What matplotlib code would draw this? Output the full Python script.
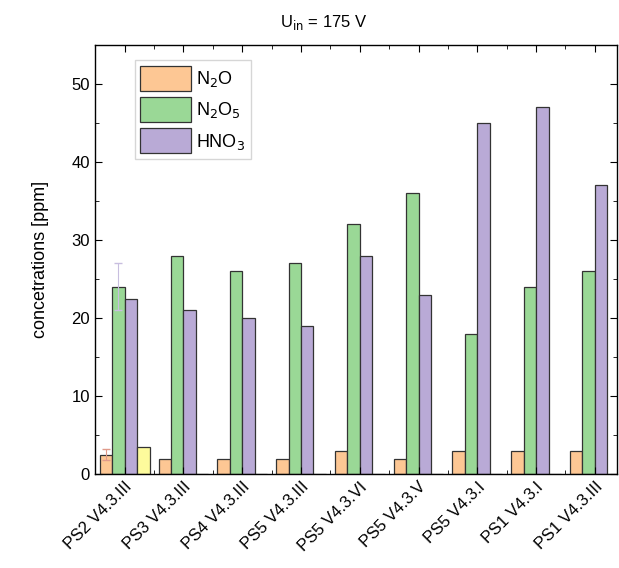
import matplotlib.pyplot as plt
import numpy as np
from matplotlib.ticker import MultipleLocator

samples = ["PS2 V4.3.III", "PS3 V4.3.III", "PS4 V4.3.III", "PS5 V4.3.III",
           "PS5 V4.3.VI", "PS5 V4.3.V", "PS5 V4.3.I", "PS1 V4.3.I", "PS1 V4.3.III"]
n2o = [2.5, 2, 2, 2, 3, 2, 3, 3, 3]
n2o5 = [24, 28, 26, 27, 32, 36, 18, 24, 26]
hno3 = [22.5, 21, 20, 19, 28, 23, 45, 47, 37]
other = [3.5, 0, 0, 0, 0, 0, 0, 0, 0]
n2o_err = [0.7, 0, 0, 0, 0, 0, 0, 0, 0]
n2o5_err = [3, 0, 0, 0, 0, 0, 0, 0, 0]

plt.rcParams["font.family"] = "Liberation Sans"
fig = plt.figure(figsize=(6.19, 5.68), dpi=100)
ax = fig.add_axes([0.153, 0.165, 0.844, 0.756])

x = np.arange(len(samples))
w = 0.212
edge = dict(edgecolor="#333333", linewidth=0.9)
ax.bar(x - 1.5 * w, n2o, w, color="#fdc794", label="N$_2$O", **edge)
ax.bar(x - 0.5 * w, n2o5, w, color="#9ad896", label="N$_2$O$_5$", **edge)
ax.bar(x + 0.5 * w, hno3, w, color="#b9aad6", label="HNO$_3$", **edge)
ax.bar(x + 1.5 * w, other, w, color="#fdfb9c", **edge)

# error bars only where measured
ax.errorbar(x[:1] - 1.5 * w, n2o[:1], yerr=n2o_err[:1], fmt="none",
            ecolor="#e09a8a", elinewidth=0.8, capsize=3)
ax.errorbar(x[:1] - 0.5 * w, n2o5[:1], yerr=n2o5_err[:1], fmt="none",
            ecolor="#c8bedf", elinewidth=0.8, capsize=3)

ax.set_xlim(-0.51, 8.38)
ax.set_ylim(0, 55)
ax.set_xticks(x)
ax.set_xticklabels(samples, rotation=45, ha="right", rotation_mode="anchor", fontsize=12)
ax.xaxis.set_minor_locator(MultipleLocator(0.5))
ax.yaxis.set_major_locator(MultipleLocator(10))
ax.yaxis.set_minor_locator(MultipleLocator(5))
ax.tick_params(which="both", direction="in", top=True, right=True, labelsize=12)
ax.tick_params(which="major", length=5)
ax.tick_params(which="minor", length=3)
for s in ax.spines.values():
    s.set_linewidth(1.0)

ax.set_ylabel("concetrations [ppm]", fontsize=13, labelpad=16)
fig.text(0.523, 0.961, "U$_{\\mathrm{in}}$ = 175 V", fontsize=12,
         ha="center", va="center")

ax.legend(loc="upper left", bbox_to_anchor=(0.06, 0.985), fontsize=13,
          handlelength=2.8, handleheight=1.75, labelspacing=0.35,
          handletextpad=0.3, borderpad=0.3, fancybox=False,
          edgecolor="#cccccc")

fig.savefig("out.png", dpi=100)
